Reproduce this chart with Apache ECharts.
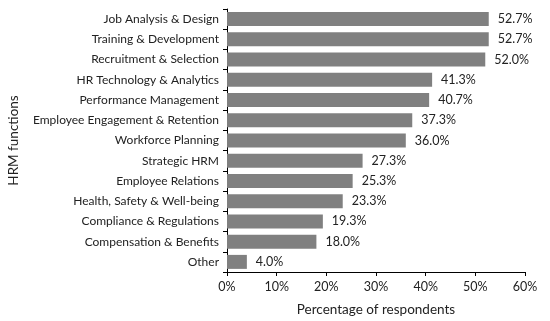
<!DOCTYPE html>
<html>
<head>
<meta charset="utf-8">
<script src="https://cdn.jsdelivr.net/npm/echarts@6/dist/echarts.min.js"></script>
<style>html,body{margin:0;padding:0;background:#fff;}#c{width:550px;height:321px;}</style>
</head>
<body>
<div id="c"></div>
<script>
var categories = ["Job Analysis & Design","Training & Development","Recruitment & Selection","HR Technology & Analytics","Performance Management","Employee Engagement & Retention","Workforce Planning","Strategic HRM","Employee Relations","Health, Safety & Well-being","Compliance & Regulations","Compensation & Benefits","Other"];
var values = [52.7,52.7,52.0,41.3,40.7,37.3,36.0,27.3,25.3,23.3,19.3,18.0,4.0];
var xTicks = [0,10,20,30,40,50,60];
var font = "Lato";
var chart = echarts.init(document.getElementById('c'));
chart.setOption({
  animation:false,
  grid:{left:227,right:25,top:9,bottom:49,containLabel:false,outerBoundsMode:'none'},
  xAxis:{type:'value',min:xTicks[0],max:xTicks[xTicks.length-1],interval:10,
    axisLine:{show:true,lineStyle:{color:'#000',width:1}},
    axisTick:{show:true,length:4,lineStyle:{color:'#000'}},
    splitLine:{show:false},
    axisLabel:{formatter:'{value}%',color:'#222',fontFamily:font,fontSize:12.5,margin:8},
    name:'Percentage of respondents',nameLocation:'middle',nameGap:31,nameMoveOverlap:false,
    nameTextStyle:{color:'#222',fontFamily:font,fontSize:13.5}},
  yAxis:{type:'category',data:categories.slice().reverse(),inverse:false,
    axisLine:{show:true,lineStyle:{color:'#000',width:1}},
    axisTick:{show:true,length:4,lineStyle:{color:'#000'}},
    axisLabel:{color:'#222',fontFamily:font,fontSize:12,margin:8},
    name:'HRM functions',nameLocation:'middle',nameGap:206,nameRotate:90,nameMoveOverlap:false,
    nameTextStyle:{color:'#222',fontFamily:font,fontSize:13.5}},
  series:[{type:'bar',data:values.slice().reverse(),barWidth:14,
    itemStyle:{color:'#808080'},
    label:{show:true,position:'right',distance:9,formatter:function(p){return p.value.toFixed(1)+'%';},
      color:'#222',fontFamily:font,fontSize:12.5}}]
});
</script>
</body>
</html>
